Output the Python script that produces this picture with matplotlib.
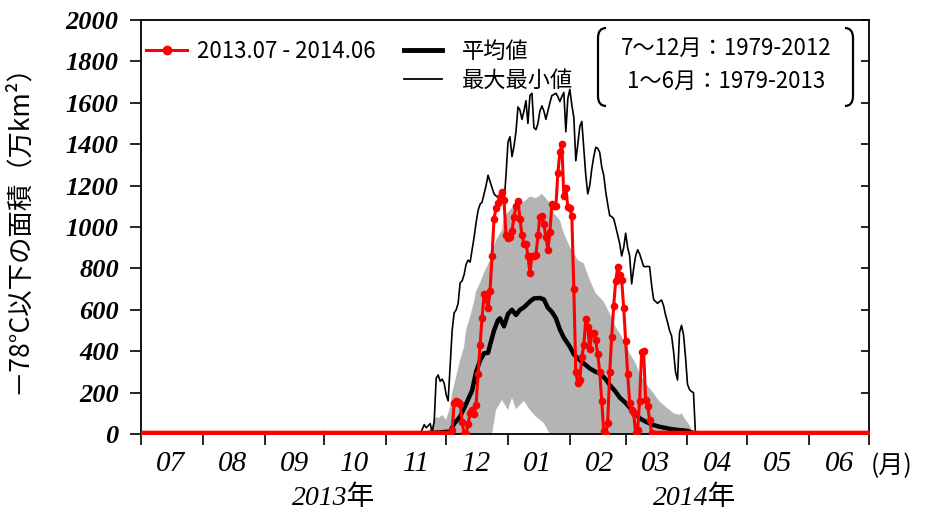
import numpy as np
import matplotlib
matplotlib.use("Agg")
import matplotlib.pyplot as plt
from matplotlib.path import Path
from matplotlib.patches import PathPatch
from matplotlib.lines import Line2D

# days counted from 2013-07-01
start = np.datetime64("2013-07-01")

month_labels = ["07", "08", "09", "10", "11", "12", "01", "02", "03", "04", "05", "06"]
year_labels = ["2013年", "2014年"]
period_text = ["7～12月：1979-2012", "1～6月：1979-2013"]

# 2013.07 - 2014.06 (daily), zero before day 155 and after day 257
red_first_day = 155
red_active = [
    0, 20, 150, 160, 155, 145, 60, 0, 0, 50,
    100, 115, 95, 140, 290, 430, 560, 675, 650, 610,
    690, 860, 1040, 1090, 1115, 1145, 1170, 1130, 960, 945,
    950, 980, 1050, 1100, 1125, 1040, 960, 920, 920, 860,
    780, 860, 860, 865, 960, 1050, 1055, 1015, 950, 890,
    975, 1110, 1100, 1100, 1260, 1360, 1400, 1150, 1190, 1095,
    1090, 1055, 700, 300, 245, 260, 370, 430, 555, 515,
    410, 486, 486, 452, 385, 300, 160, 15, 0, 55,
    300, 470, 620, 740, 805, 770, 745, 610, 450, 290,
    150, 118, 100, 5, 20, 160, 395, 400, 165, 135,
    70, 5, 0,
]
n_days = 365

# 平均値
mean_days = [0, 138, 145, 150, 155, 157, 160, 163, 166, 168, 170, 172, 174, 175, 177, 179,
             180, 182, 184, 186, 188, 190, 192, 195, 197, 200, 202, 204, 206, 208, 210,
             212, 215, 217, 220, 223, 225, 228, 230, 233, 235, 238, 240, 243, 245, 248,
             250, 253, 257, 260, 264, 267, 270, 274, 277, 280, 364]
mean_vals = [0, 0, 5, 8, 12, 50, 84, 145, 210, 300, 355, 390, 392, 430, 500, 550,
             559, 520, 580, 600, 575, 600, 612, 640, 655, 657, 650, 610, 590, 560, 505,
             465, 422, 385, 357, 333, 317, 300, 293, 265, 237, 204, 176, 150, 128, 100,
             76, 60, 43, 35, 27, 22, 19, 15, 5, 0, 0]

# 最大値
max_days = [0, 140, 142, 143, 145, 146, 147, 148, 149, 150, 151, 152, 153, 154, 155, 156,
            157, 158, 159, 160, 161, 162, 163, 164, 165, 166, 167, 168, 169, 170, 171,
            172, 173, 174, 175, 176, 177, 178, 179, 180, 181, 182, 183, 184, 185, 186,
            187, 188, 189, 190, 191, 192, 193, 194, 195, 196, 197, 198, 199, 200, 201,
            202, 203, 204, 205, 206, 207, 208, 209, 210, 211, 212, 213, 214, 215, 216,
            217, 218, 219, 220, 221, 222, 223, 224, 225, 226, 227, 228, 229, 230, 231,
            232, 233, 234, 235, 236, 237, 238, 239, 240, 241, 242, 243, 244, 245, 246,
            247, 248, 249, 250, 251, 252, 253, 254, 255, 256, 257, 258, 259, 260, 261,
            262, 263, 264, 265, 266, 267, 268, 269, 270, 271, 272, 273, 274, 275, 276,
            277, 278, 364]
max_vals = [0, 0, 45, 30, 50, 10, 60, 270, 285, 255, 265, 245, 190, 160, 330, 500,
            585, 599, 631, 730, 740, 770, 820, 840, 830, 890, 950, 1020, 1080, 1110, 1120,
            1160, 1200, 1250, 1220, 1190, 1160, 1150, 1145, 1135, 1125, 1115, 1250, 1410, 1436, 1340,
            1390, 1460, 1580, 1565, 1520, 1560, 1610, 1500, 1635, 1646, 1480, 1470, 1500, 1560, 1585,
            1560, 1520, 1560, 1600, 1635, 1640, 1646, 1630, 1606, 1630, 1650, 1460, 1620, 1665, 1590,
            1530, 1320, 1400, 1485, 1510, 1380, 1250, 1160, 1200, 1280, 1340, 1385, 1380, 1360, 1290,
            1250, 1170, 1110, 1055, 1050, 1040, 1002, 960, 920, 860, 900, 970, 900, 860, 725,
            800, 860, 890, 870, 840, 810, 808, 810, 808, 720, 650, 640, 631, 640, 647,
            620, 575, 540, 500, 475, 400, 300, 261, 490, 525, 480, 373, 240, 215, 205,
            200, 0, 0]

# gray band
band_top_days = [143, 146, 148, 149, 151, 153, 155, 156, 158, 160, 162, 163, 165, 167, 168,
                 170, 172, 173, 175, 178, 181, 182, 185, 188, 192, 195, 198, 201, 203, 205,
                 207, 210, 212, 215, 219, 222, 225, 228, 232, 235, 238, 242, 245, 248, 250,
                 253, 257, 260, 263, 267, 270, 271, 273, 275, 277]
band_top_vals = [0, 40, 84, 76, 92, 68, 130, 197, 277, 357, 422, 502, 567, 640, 690,
                 730, 780, 800, 840, 937, 986, 1050, 1082, 1114, 1122, 1147, 1139, 1160, 1139, 1114,
                 1066, 1034, 969, 905, 840, 824, 744, 680, 639, 583, 518, 454, 390, 341, 293,
                 245, 197, 156, 132, 100, 92, 100, 68, 43, 0]
band_bot_days = [143, 176, 178, 181, 182, 184, 186, 188, 192, 195, 198, 202, 205, 277]
band_bot_vals = [0, 0, 116, 164, 148, 116, 175, 120, 160, 116, 84, 52, 0, 0]


def to_dates(days):
    return start + np.asarray(days).astype("timedelta64[D]")


red_vals = np.concatenate([np.zeros(red_first_day), red_active,
                           np.zeros(n_days - red_first_day - len(red_active))])
red_dates = to_dates(np.arange(n_days))

cjk = ["Noto Sans CJK JP", "DejaVu Sans"]

fig = plt.figure(figsize=(9.25, 5.17), dpi=100)
ax = fig.add_axes([141 / 925, 83 / 517, 728 / 925, 414 / 517])

band_x = np.concatenate([to_dates(band_top_days), to_dates(band_bot_days)[::-1]])
band_y = np.concatenate([band_top_vals, band_bot_vals[::-1]])
ax.fill(band_x, band_y, color="#b4b4b4", lw=0, zorder=1)

ax.plot(to_dates(max_days), max_vals, color="black", lw=1.2, zorder=2)
ax.plot(to_dates(mean_days), mean_vals, color="black", lw=3.2, zorder=3)
ax.plot(red_dates, red_vals, color="red", lw=2.2, marker="o", ms=4.5, zorder=4)

ax.set_xlim(start, np.datetime64("2014-07-01"))
ax.set_ylim(0, 2000)

month_starts = np.arange(np.datetime64("2013-07"), np.datetime64("2014-08"),
                         dtype="datetime64[M]").astype("datetime64[D]")
month_mids = month_starts[:-1] + np.timedelta64(15, "D")
ax.set_xticks(month_starts, labels=[])
ax.set_xticks(month_mids, labels=month_labels, minor=True,
              fontfamily="Liberation Serif", fontstyle="italic", fontsize=21)
ax.tick_params(axis="x", which="major", direction="out", length=8, width=1.2)
ax.tick_params(axis="x", which="minor", length=0, pad=12)

ax.set_yticks(range(0, 2001, 200))
ax.set_yticklabels([str(v) for v in range(0, 2001, 200)],
                   fontfamily="Liberation Serif", fontstyle="italic",
                   fontweight="bold", fontsize=19)
ax.tick_params(axis="y", direction="out", length=8, width=1.2, pad=8, right=True)
for t in ax.yaxis.get_ticklines()[1::2]:
    t.set_marker(0)
    t.set_markersize(6)

for s in ax.spines.values():
    s.set_linewidth(1.3)

ax.set_ylabel("－78°C以下の面積（万km²）", family=cjk, fontsize=19)
ax.yaxis.set_label_coords(-0.15, 0.51)

ax.text(1.002, -0.077, "(月)", transform=ax.transAxes, family=cjk, fontsize=18,
        ha="left", va="center")
ax.text(0.264, -0.155, year_labels[0], transform=ax.transAxes,
        family=["Liberation Serif", "Noto Sans CJK JP"], fontstyle="italic",
        fontsize=20, ha="center", va="center")
ax.text(0.760, -0.155, year_labels[1], transform=ax.transAxes,
        family=["Liberation Serif", "Noto Sans CJK JP"], fontstyle="italic",
        fontsize=20, ha="center", va="center")

# legends
h_red = Line2D([], [], color="red", lw=2.2, marker="o", ms=6)
leg1 = ax.legend([h_red], ["2013.07 - 2014.06"], loc="upper left",
                 bbox_to_anchor=(126 / 925, 1 - 20 / 517), bbox_transform=fig.transFigure,
                 frameon=False, handlelength=1.85, handletextpad=0.45,
                 prop={"family": cjk, "size": 16})
ax.add_artist(leg1)
h_mean = Line2D([], [], color="black", lw=3.5)
h_max = Line2D([], [], color="black", lw=1.3)
ax.legend([h_mean, h_max], ["平均値", "最大最小値"], loc="upper left",
          bbox_to_anchor=(384 / 925, 1 - 20 / 517), bbox_transform=fig.transFigure,
          frameon=False, handlelength=1.7, handletextpad=0.9, labelspacing=0.25,
          prop={"family": cjk, "size": 16})

# period brackets
def px(x, y):
    return (x / 925, 1 - y / 517)

top, bot, r = 28, 106, 10
for xe, xc in [(606, 598), (845, 853)]:
    verts = [px(xe, top), px(xc, top), px(xc, top + r), px(xc, bot - r),
             px(xc, bot), px(xe, bot)]
    codes = [Path.MOVETO, Path.CURVE3, Path.CURVE3, Path.LINETO, Path.CURVE3, Path.CURVE3]
    fig.add_artist(PathPatch(Path(verts, codes), fill=False, lw=1.6, ec="black",
                             transform=fig.transFigure))
fig.text(726 / 925, 1 - 48 / 517, period_text[0], family=cjk, fontsize=16,
         ha="center", va="center")
fig.text(726 / 925, 1 - 81 / 517, period_text[1], family=cjk, fontsize=16,
         ha="center", va="center")

fig.savefig("out.png", dpi=100)
